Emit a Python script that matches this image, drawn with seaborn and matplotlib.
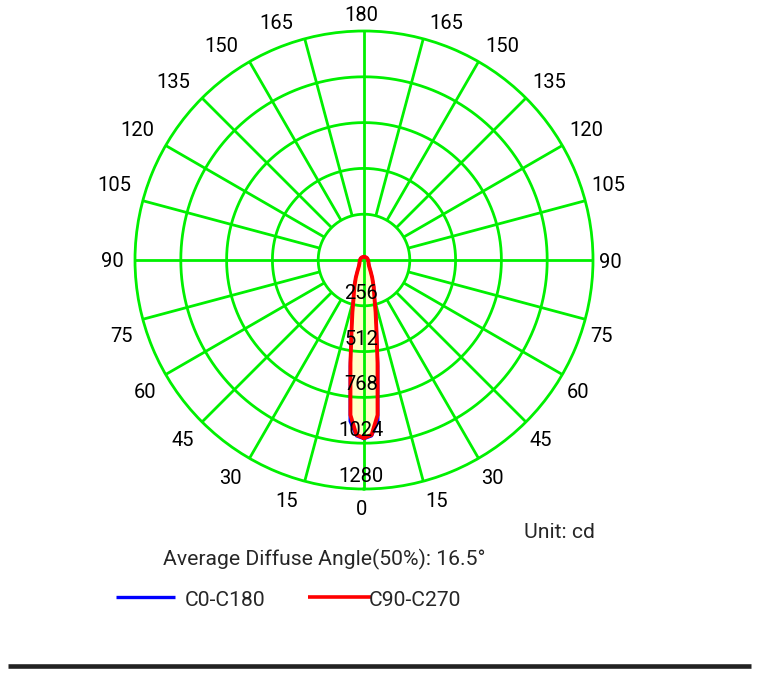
import numpy as np
import matplotlib
matplotlib.use("Agg")
import matplotlib.pyplot as plt
import seaborn as sns
from matplotlib.lines import Line2D

# ---------------- data ----------------
gamma = np.array([0, 2.5, 5, 7.5, 10, 12.5, 15, 20, 25, 30, 40, 50, 60, 70, 80,
                  90, 105, 120, 135, 150, 165, 180])
c0_c180 = np.array([1000, 985, 905, 600, 410, 305, 232, 160, 110, 75, 45, 35, 30,
                    27, 25, 23, 22, 21, 20, 19, 18, 18])
c90_c270 = np.array([995, 978, 870, 580, 400, 300, 228, 158, 108, 74, 44, 34, 29,
                     26, 24, 22, 21, 20, 19, 18, 18, 18])
ring_values = [256, 512, 768, 1024, 1280]
angle_ticks = list(range(0, 360, 15))
angle_labels = [str(a if a <= 180 else 360 - a) for a in angle_ticks]
series_names = ["C0-C180", "C90-C270"]
unit_text = "Unit: cd"
angle_text = "Average Diffuse Angle(50%): 16.5°"

# ---------------- style ----------------
sns.set_theme(style="white")
plt.rcParams["font.family"] = ["Roboto", "DejaVu Sans"]
GREEN = "#00F000"
FS = 14.5
FS_B = 15.2
PT = 72 / 100  # points per pixel
GRID_LW = 2.0

W, H = 758, 673
fig = plt.figure(figsize=(W / 100, H / 100), dpi=100)
fig.patch.set_facecolor("white")

cx, cy, R = 364, 260, 229
ax = fig.add_axes([(cx - R) / W, (H - cy - R) / H, 2 * R / W, 2 * R / H],
                  projection="polar")
ax.set_facecolor("white")
ax.set_theta_zero_location("S")
ax.set_theta_direction(1)
ax.set_ylim(0, 1280)
ax.set_xticks([])
ax.set_yticks([])
ax.grid(False)
ax.spines["polar"].set_color(GREEN)
ax.spines["polar"].set_linewidth(GRID_LW)


def full_curve(values):
    th = np.concatenate([np.radians(gamma), np.radians(360 - gamma[::-1])])
    rr = np.concatenate([values, values[::-1]])
    return th, rr


# fill under the curves
th_f, r_f = full_curve(np.maximum(c0_c180, c90_c270))
ax.fill(th_f, r_f, color="#FFFFC6", zorder=1, lw=0)

# grid: rings
circ = np.linspace(0, 2 * np.pi, 721)
for v in ring_values[:-1]:
    ax.plot(circ, np.full_like(circ, v), color=GREEN, lw=GRID_LW, zorder=2)
# grid: spokes
for a in angle_ticks:
    r0 = 0 if a % 90 == 0 else ring_values[0]
    ax.plot([np.radians(a)] * 2, [r0, 1280], color=GREEN, lw=GRID_LW, zorder=2,
            solid_capstyle="butt")

# curves
th_b, r_b = full_curve(c0_c180)
th_r, r_r = full_curve(c90_c270)
sns.lineplot(x=th_b, y=r_b, ax=ax, sort=False, estimator=None, color="#0000FF",
             lw=2.0, zorder=3)
sns.lineplot(x=th_r, y=r_r, ax=ax, sort=False, estimator=None, color="#FF0000",
             lw=2.8, zorder=4)
ax.set_xlabel("")
ax.set_ylabel("")
ax.set_ylim(0, 1280)

SHIFT = -2.5  # px, global text shift
# angle labels
for a, lab in zip(angle_ticks, angle_labels):
    t = np.radians(a)
    sx, sy = np.sin(t), -np.cos(t)
    if sy > 1e-6:          # upper half
        va, oy = "baseline", 10
        dx = 9
    elif sy < -1e-6:       # lower half
        va, oy = "top", -(6 + 5 * abs(sy))
        dx = 9 - 4.5 * abs(sy)
    else:
        va, oy = "center_baseline", 0
        dx = 9
    if sx > 1e-6:
        ha, ox = "left", dx
    elif sx < -1e-6:
        ha, ox = "right", -dx
    else:
        ha, ox = "center", 0
    ax.annotate(lab, xy=(t, 1280), xytext=((ox + SHIFT) * PT, oy * PT),
                textcoords="offset points", ha=ha, va=va, fontsize=FS,
                color="black", annotation_clip=False)

# ring labels
for v in ring_values:
    ax.annotate(str(v), xy=(0, v), xytext=((SHIFT - 0.5) * PT, 14.5 * PT),
                textcoords="offset points", ha="center", va="center_baseline",
                fontsize=FS, color="black", zorder=6, annotation_clip=False)


def fx(px):
    return px / W


def fy(py):
    return 1 - py / H


fig.text(fx(524), fy(530), unit_text, ha="left", va="center_baseline", fontsize=FS_B)
fig.text(fx(163), fy(557), angle_text, ha="left", va="center_baseline", fontsize=FS_B)

# legend
fig.add_artist(Line2D([fx(116), fx(175)], [fy(597)] * 2, color="#0000FF", lw=2.4,
                      solid_capstyle="butt"))
fig.text(fx(185), fy(598), series_names[0], ha="left", va="center_baseline",
         fontsize=FS_B)
fig.add_artist(Line2D([fx(308), fx(371)], [fy(597)] * 2, color="#FF0000", lw=2.6,
                      solid_capstyle="butt"))
fig.text(fx(369), fy(598), series_names[1], ha="left", va="center_baseline",
         fontsize=FS_B)

# bottom rule
fig.add_artist(Line2D([8 / W, 751 / W], [fy(665.5)] * 2, color="#222222", lw=3.3,
                      solid_capstyle="butt"))

fig.savefig("out.png", dpi=100, facecolor="white")
